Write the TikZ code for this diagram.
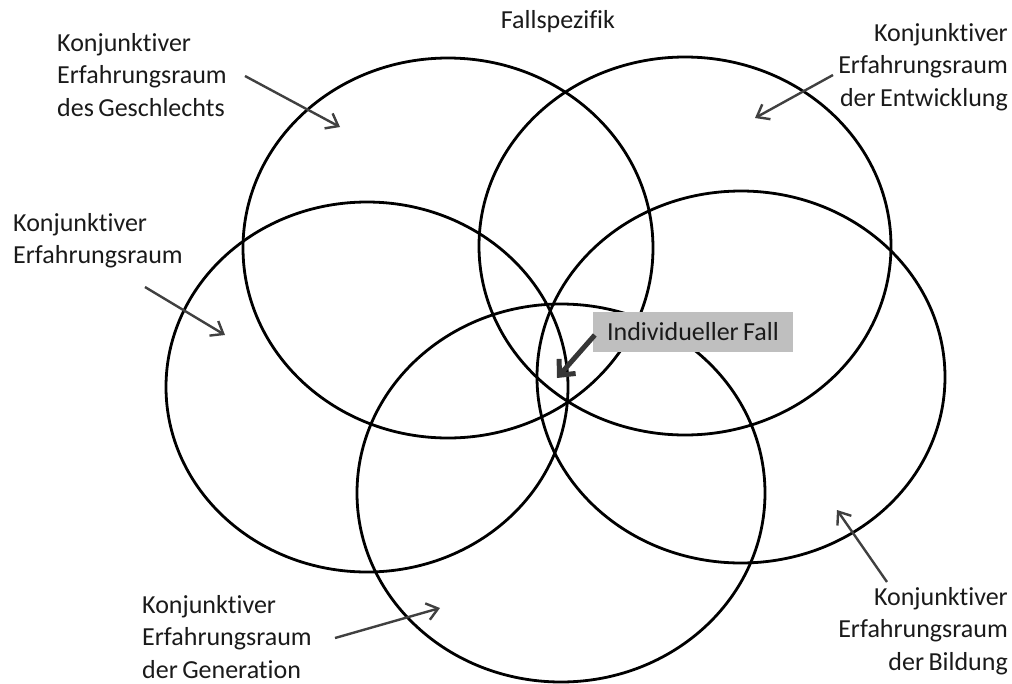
\documentclass[tikz,border=0pt]{standalone}
\usepackage{fontspec}
\setmainfont{Carlito}[Ligatures=NoCommon, WordSpace=0.75]
\usetikzlibrary{arrows.meta}
\definecolor{arrowgray}{HTML}{404040}
\definecolor{boxgray}{HTML}{BFBFBF}
\definecolor{textgray}{HTML}{1A1A1A}
\tikzset{
  ring/.style={draw=black, line width=2.8pt},
  label/.style={inner sep=0pt, text=textgray, font=\fontsize{26}{32.5}\selectfont},
  pointer/.style={draw=arrowgray, line width=2.4pt,
    -{Straight Barb[length=11pt, width=17pt, line width=2.4pt]}},
  bigpointer/.style={draw=arrowgray!85!black, line width=5pt,
    -{Straight Barb[length=12pt, width=22pt, line width=5pt]}},
  casebox/.style={fill=boxgray, inner sep=0pt, minimum width=200pt,
    minimum height=40pt, text=textgray, font=\fontsize{26}{32.5}\selectfont}
}
\begin{document}
\begin{tikzpicture}[x=1pt, y=-1pt]
  \useasboundingbox (0,0) rectangle (1012,683);

  % the five overlapping spaces of experience
  \draw[ring] (448,248) ellipse [x radius=205pt, y radius=190pt];
  \draw[ring] (685,246) ellipse [x radius=206pt, y radius=189pt];
  \draw[ring] (367,387) ellipse [x radius=201pt, y radius=185pt];
  \draw[ring] (741,377) ellipse [x radius=204pt, y radius=186pt];
  \draw[ring] (561,493) ellipse [x radius=204pt, y radius=189pt];

  % headline
  \node[label, anchor=north] (title) at (558,10) {Fallspezifik};

  % labels
  \node[label, anchor=north west, align=left] (geschlecht) at (57,33)
    {Konjunktiver\\Erfahrungsraum\\des Geschlechts};
  \node[label, anchor=north east, align=right] (entwicklung) at (1008,23)
    {Konjunktiver\\Erfahrungsraum\\der Entwicklung};
  \node[label, anchor=north west, align=left] (allgemein) at (13,213)
    {Konjunktiver\\Erfahrungsraum};
  \node[label, anchor=north west, align=left] (generation) at (142,595)
    {Konjunktiver\\Erfahrungsraum\\der Generation};
  \node[label, anchor=north east, align=right] (bildung) at (1008,587)
    {Konjunktiver\\Erfahrungsraum\\der Bildung};

  % the individual case
  \node[casebox] (fall) at (693,332) {Individueller Fall};

  % arrow end points
  \coordinate (g0) at (245,76);  \coordinate (g1) at (340,127);
  \coordinate (e0) at (833,75);  \coordinate (e1) at (755,118);
  \coordinate (a0) at (145,287); \coordinate (a1) at (225,335);
  \coordinate (n0) at (335,638); \coordinate (n1) at (440,608);
  \coordinate (b0) at (887,582); \coordinate (b1) at (837,510);
  \coordinate (f1) at (557,378);

  \draw[pointer] (g0) -- (g1);
  \draw[pointer] (e0) -- (e1);
  \draw[pointer] (a0) -- (a1);
  \draw[pointer] (n0) -- (n1);
  \draw[pointer] (b0) -- (b1);
  \draw[bigpointer] ([xshift=2pt,yshift=-3pt]fall.west) -- (f1);
\end{tikzpicture}
\end{document}
